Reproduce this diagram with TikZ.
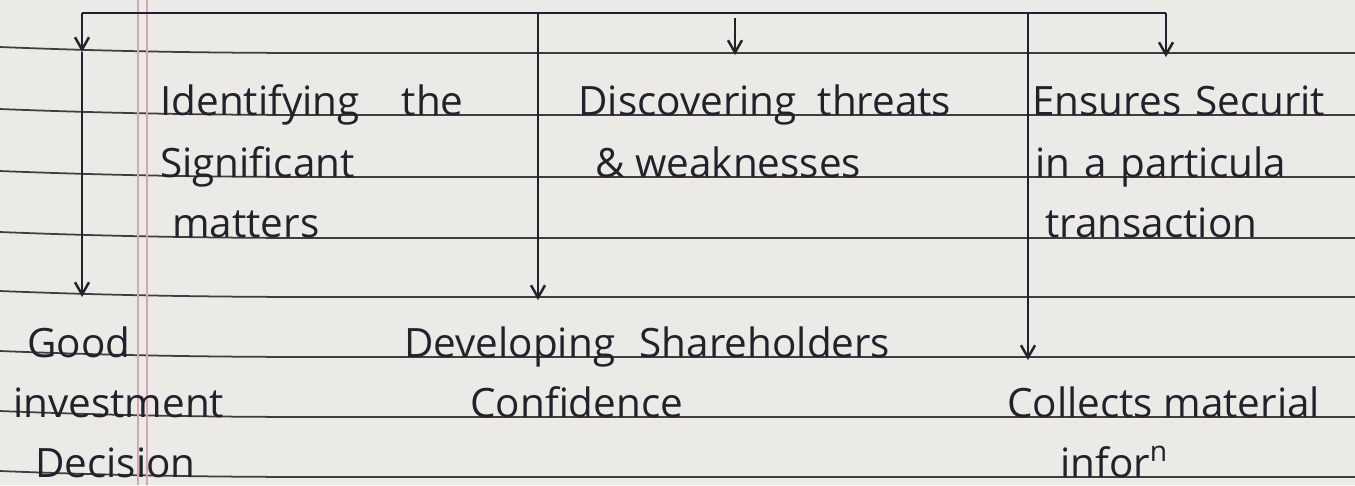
\documentclass[tikz,border=0pt]{standalone}
\usepackage{fontspec}
\setmainfont{Open Sans}
\usetikzlibrary{arrows.meta}
\definecolor{paper}{HTML}{EBEAE6}
\definecolor{ruleln}{HTML}{3E3E3E}
\definecolor{ink}{HTML}{22222C}
\definecolor{marginln}{HTML}{D7A6B6}
\begin{document}
\begin{tikzpicture}[x=0.02cm,y=-0.02cm,
  ruled/.style={ruleln, line width=1pt},
  wire/.style={ink, line width=1.4pt},
  arr/.style={wire, -{Straight Barb[length=7pt,width=8pt]}},
  txt/.style={anchor=base west, inner sep=0pt, text=ink, font=\fontsize{23}{27}\selectfont}]
\fill[paper] (0,0) rectangle (1355,485);
\useasboundingbox (0,0) rectangle (1355,485);
% notebook ruling
\foreach \y in {53,115,177,238,297,357,417,477}
  \draw[ruled] (0,\y-6) .. controls (100,\y-2) and (200,\y) .. (320,\y) -- (1355,\y);
\draw[marginln, line width=1.2pt] (138,0) -- (138,485);
\draw[marginln, line width=1.2pt] (147,0) -- (147,485);
% junction points
\coordinate (tl) at (82,13);
\coordinate (tm) at (538,13);
\coordinate (tr) at (1028,13);
\coordinate (te) at (1166,13);
\coordinate (a1) at (82,52);
\coordinate (m1s) at (735,18);
\coordinate (m1e) at (735,55);
\coordinate (a3) at (1166,57);
\coordinate (b1) at (82,297);
\coordinate (b2) at (538,300);
\coordinate (b3) at (1028,360);
% texts
\node[txt] (id1) at (160,115) {Identifying\hspace{24pt}the};
\node[txt] (id2) at (160,177) {Significant};
\node[txt] (id3) at (172,237) {matters};
\node[txt] (dt1) at (578,115) {Discovering\hspace{12pt}threats};
\node[txt] (dt2) at (595,177) {\& weaknesses};
\node[txt] (es1) at (1032,115) {Ensures\hspace{8pt}Securit};
\node[txt] (es2) at (1035,177) {in\hspace{8pt}a\hspace{8pt}particula};
\node[txt] (es3) at (1045,237) {transaction};
\node[txt] (gd1) at (27,357) {Good};
\node[txt] (gd2) at (13,417) {investment};
\node[txt] (gd3) at (35,477) {Decision};
\node[txt] (ds1) at (404,357) {Developing\hspace{14pt}Shareholders};
\node[txt] (ds2) at (470,417) {Confidence};
\node[txt] (cm1) at (1007,417) {Collects\hspace{6pt}material};
\node[txt] (cm2) at (1060,477) {infor\textsuperscript{n}};
% connectors
\draw[wire] (tl) -- (te);
\draw[arr] (tl) -- (a1);
\draw[arr] (m1s) -- (m1e);
\draw[arr] (te) -- (a3);
\draw[arr] (a1) -- (b1);
\draw[arr] (tm) -- (b2);
\draw[arr] (tr) -- (b3);
\end{tikzpicture}
\end{document}
